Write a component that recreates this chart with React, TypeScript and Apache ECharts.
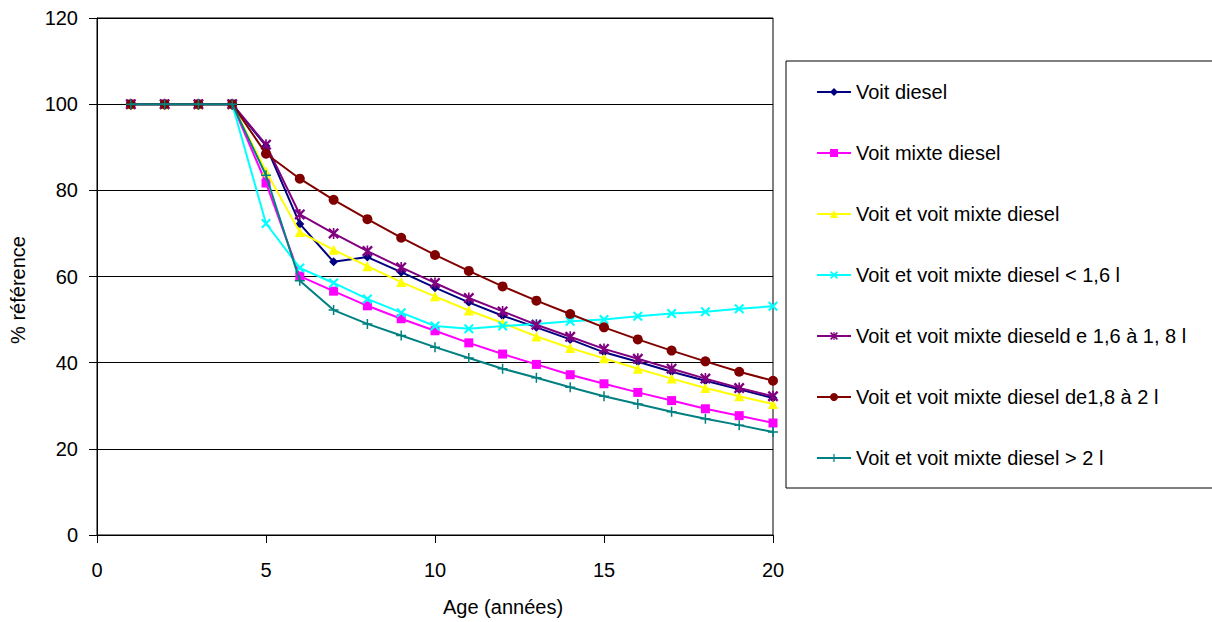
import React, { useEffect, useRef } from "react";
import * as echarts from "echarts";

const ages = [1, 2, 3, 4, 5, 6, 7, 8, 9, 10, 11, 12, 13, 14, 15, 16, 17, 18, 19, 20];

const seriesNames = [
  "Voit diesel",
  "Voit mixte diesel",
  "Voit et voit mixte diesel",
  "Voit et voit mixte diesel < 1,6 l",
  "Voit et voit mixte dieseld e 1,6 à 1, 8 l",
  "Voit et voit mixte diesel de1,8 à 2 l",
  "Voit et voit mixte diesel > 2 l",
];

const voitDiesel = [100, 100, 100, 100, 90.3, 72.2, 63.4, 64.5, 61.0, 57.4, 54.0, 50.9, 48.2, 45.4, 42.4, 40.2, 37.9, 35.8, 33.8, 31.8];
const voitMixteDiesel = [100, 100, 100, 100, 81.7, 60.1, 56.6, 53.2, 50.2, 47.4, 44.6, 42.0, 39.6, 37.2, 35.1, 33.1, 31.2, 29.3, 27.7, 26.0];
const voitEtMixte = [100, 100, 100, 100, 84.4, 70.3, 66.2, 62.4, 58.7, 55.4, 52.1, 49.2, 46.1, 43.4, 41.0, 38.6, 36.3, 34.1, 32.2, 30.4];
const moins16 = [100, 100, 100, 100, 72.3, 62.0, 58.5, 54.8, 51.6, 48.5, 47.9, 48.5, 49.0, 49.6, 50.0, 50.8, 51.4, 51.8, 52.5, 53.1];
const de16a18 = [100, 100, 100, 100, 90.6, 74.4, 70.0, 65.9, 62.1, 58.5, 55.0, 51.9, 48.8, 46.0, 43.2, 40.9, 38.6, 36.3, 34.1, 32.2];
const de18a2 = [100, 100, 100, 100, 88.5, 82.7, 77.8, 73.3, 69.0, 65.0, 61.3, 57.7, 54.4, 51.3, 48.2, 45.4, 42.8, 40.3, 37.9, 35.8];
const plus2 = [100, 100, 100, 100, 83.5, 59.0, 52.2, 49.0, 46.3, 43.6, 41.1, 38.6, 36.5, 34.3, 32.2, 30.4, 28.6, 27.0, 25.5, 23.9];

const yTicks = [0, 20, 40, 60, 80, 100, 120];
const xTicks = [0, 5, 10, 15, 20];

const allValues = [voitDiesel, voitMixteDiesel, voitEtMixte, moins16, de16a18, de18a2, plus2];

const colors = ["#000080", "#FF00FF", "#FFFF00", "#00FFFF", "#800080", "#800000", "#008080"];

const crossPath = "path://M0,1.5L1.5,0L10,8.5L8.5,10Z M8.5,0L10,1.5L1.5,10L0,8.5Z";
const starPath = "path://M0,1.5L1.5,0L10,8.5L8.5,10Z M8.5,0L10,1.5L1.5,10L0,8.5Z M4.25,0H5.75V10H4.25Z";
const plusPath = "path://M4.25,0H5.75V10H4.25Z M0,4.25H10V5.75H0Z";

const symbols = ["diamond", "rect", "triangle", crossPath, starPath, "circle", plusPath];
const symbolSizes = [9, 9, 10, 10, 11, 10, 10];

const FONT = "Liberation Sans, Arial, sans-serif";

export default function App() {
  const ref = useRef<HTMLDivElement>(null);

  useEffect(() => {
    document.body.style.margin = "0";
    if (!ref.current) return;
    const chart = echarts.init(ref.current, undefined, { renderer: "svg" });

    const series = seriesNames.map((name, i) => ({
      name,
      type: "line",
      data: ages.map((a, j) => [a, allValues[i][j]]),
      symbol: symbols[i],
      symbolSize: symbolSizes[i],
      lineStyle: { color: colors[i], width: 2 },
      itemStyle: { color: colors[i], borderWidth: 0 },
      emphasis: { disabled: true },
      z: 2 + i,
    }));

    chart.setOption({
      animation: false,
      backgroundColor: "#ffffff",
      textStyle: { fontFamily: FONT },
      grid: {
        left: 97,
        right: 1212 - 773,
        top: 18,
        bottom: 622 - 535,
        show: true,
        borderColor: "#000",
        borderWidth: 1,
        backgroundColor: "transparent",
      },
      xAxis: {
        type: "value",
        min: xTicks[0],
        max: xTicks[xTicks.length - 1],
        interval: 5,
        axisLine: { show: true, lineStyle: { color: "#000", width: 1 } },
        axisTick: { show: true, length: 8, lineStyle: { color: "#000" } },
        axisLabel: { color: "#000", fontSize: 20, margin: 25, fontFamily: FONT },
        splitLine: { show: false },
      },
      yAxis: {
        type: "value",
        min: yTicks[0],
        max: yTicks[yTicks.length - 1],
        interval: 20,
        axisLine: { show: true, lineStyle: { color: "#000", width: 1 } },
        axisTick: { show: true, length: 8, lineStyle: { color: "#000" } },
        axisLabel: { color: "#000", fontSize: 20, margin: 19, fontFamily: FONT },
        splitLine: { show: true, lineStyle: { color: "#000", width: 1 } },
      },
      legend: {
        orient: "vertical",
        left: 816,
        top: 82,
        padding: 0,
        itemWidth: 34,
        itemHeight: 10,
        itemGap: 41,
        selectedMode: false,
        data: seriesNames,
        textStyle: { color: "#000", fontSize: 20, lineHeight: 20, fontFamily: FONT },
      },
      graphic: [
        {
          type: "rect",
          shape: { x: 786, y: 61, width: 440, height: 427 },
          style: { fill: "transparent", stroke: "#000", lineWidth: 1 },
          z: -1,
        },
        {
          type: "text",
          x: 18,
          y: 290,
          rotation: Math.PI / 2,
          style: {
            text: "% référence",
            fontSize: 20,
            fontFamily: FONT,
            fill: "#000",
            textAlign: "center",
            textVerticalAlign: "middle",
          },
        },
        {
          type: "text",
          x: 503,
          y: 607,
          style: {
            text: "Age (années)",
            fontSize: 20,
            fontFamily: FONT,
            fill: "#000",
            textAlign: "center",
            textVerticalAlign: "middle",
          },
        },
      ],
      series,
    });

    return () => chart.dispose();
  }, []);

  return <div ref={ref} style={{ width: 1212, height: 622 }} />;
}
